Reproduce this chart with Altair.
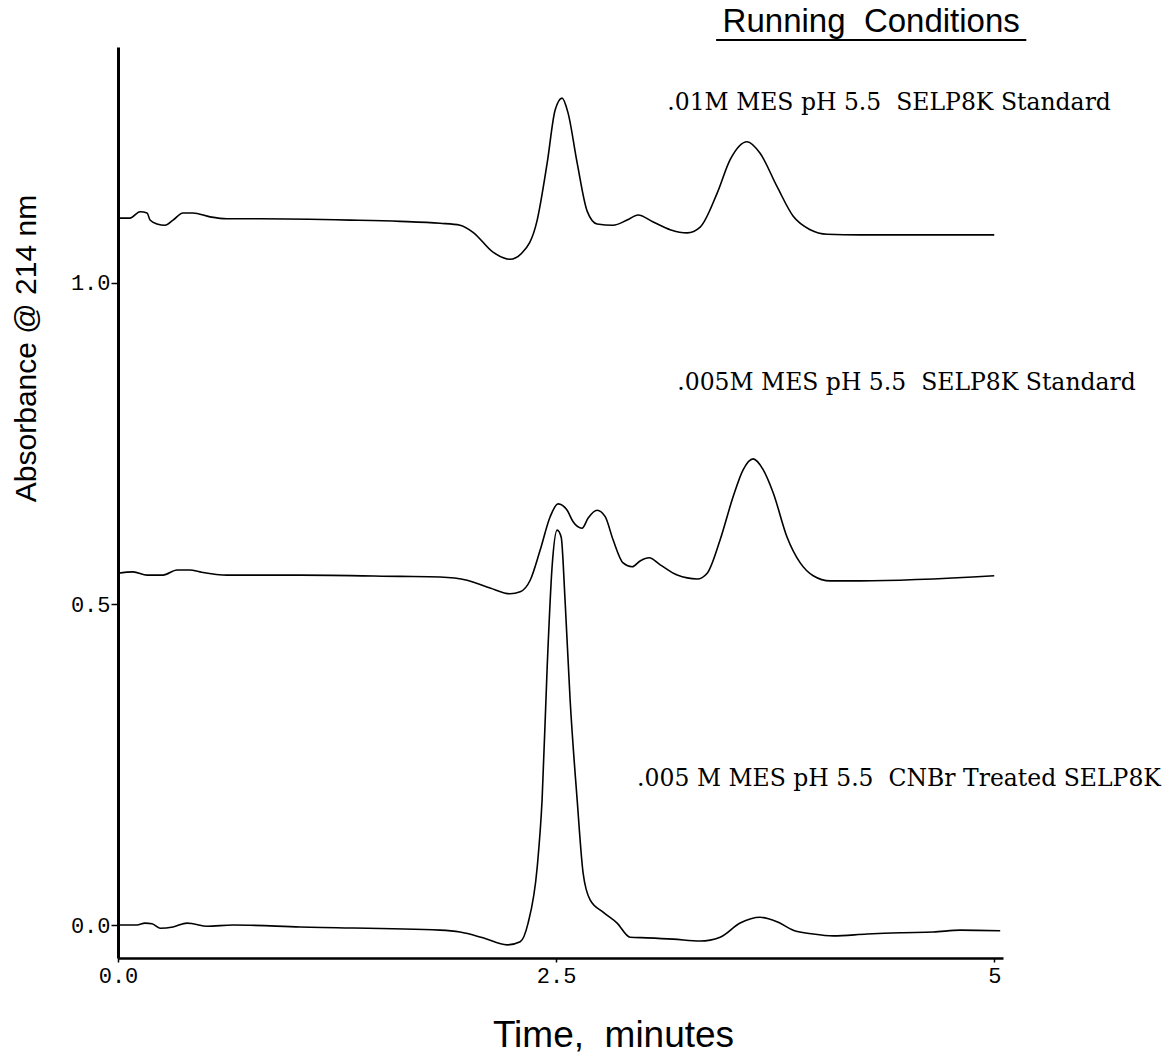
import altair as alt
import pandas as pd

# Chromatogram traces: retention time (min) and absorbance at 214 nm
time_01m = [0.000, 0.068, 0.126, 0.166, 0.183, 0.223, 0.268, 0.314, 0.371, 0.428,
            0.525, 0.622, 0.811, 1.324, 1.610, 1.838, 1.952, 2.026, 2.140, 2.237,
            2.306, 2.392, 2.449, 2.494, 2.534, 2.568, 2.620, 2.677, 2.734, 2.825,
            2.905, 2.968, 3.054, 3.151, 3.248, 3.322, 3.419, 3.493, 3.590, 3.664,
            3.761, 3.853, 3.950, 4.047, 4.235, 5.000]
abs_01m = [1.101, 1.101, 1.111, 1.109, 1.098, 1.092, 1.090, 1.098, 1.109, 1.109,
           1.103, 1.100, 1.100, 1.098, 1.096, 1.093, 1.090, 1.079, 1.048, 1.037,
           1.047, 1.098, 1.187, 1.269, 1.288, 1.265, 1.187, 1.112, 1.092, 1.090,
           1.098, 1.106, 1.095, 1.083, 1.078, 1.087, 1.140, 1.192, 1.220, 1.202,
           1.150, 1.104, 1.083, 1.076, 1.075, 1.075]

time_005m = [0.000, 0.086, 0.166, 0.257, 0.337, 0.411, 0.468, 0.622, 1.039, 1.610,
             1.838, 1.992, 2.123, 2.237, 2.295, 2.352, 2.409, 2.466, 2.511, 2.563,
             2.597, 2.648, 2.683, 2.734, 2.780, 2.825, 2.882, 2.934, 2.979, 3.031,
             3.094, 3.191, 3.305, 3.362, 3.436, 3.510, 3.567, 3.624, 3.682, 3.739,
             3.818, 3.893, 3.967, 4.064, 4.235, 5.000]
abs_005m = [0.548, 0.550, 0.545, 0.545, 0.553, 0.553, 0.550, 0.545, 0.545, 0.543,
            0.542, 0.537, 0.525, 0.516, 0.519, 0.537, 0.584, 0.636, 0.656, 0.646,
            0.628, 0.618, 0.634, 0.646, 0.636, 0.600, 0.564, 0.558, 0.567, 0.572,
            0.561, 0.545, 0.539, 0.548, 0.600, 0.667, 0.709, 0.726, 0.709, 0.673,
            0.604, 0.564, 0.544, 0.536, 0.536, 0.544]

time_cnbr = [0.000, 0.108, 0.154, 0.194, 0.240, 0.314, 0.394, 0.428, 0.508, 0.656,
             1.039, 1.838, 1.952, 2.083, 2.220, 2.295, 2.340, 2.392, 2.420, 2.449,
             2.477, 2.506, 2.529, 2.551, 2.580, 2.620, 2.654, 2.694, 2.768, 2.848,
             2.922, 3.019, 3.168, 3.322, 3.436, 3.550, 3.664, 3.761, 3.853, 3.967,
             4.081, 4.275, 4.463, 4.652, 4.806, 5.034]
abs_cnbr = [0.000, 0.000, 0.003, 0.002, -0.005, -0.003, 0.003, 0.002, -0.002, 0.000,
            -0.003, -0.008, -0.011, -0.020, -0.031, -0.026, 0.003, 0.090, 0.195, 0.402,
            0.558, 0.615, 0.604, 0.506, 0.350, 0.195, 0.081, 0.039, 0.020, 0.003,
            -0.019, -0.020, -0.022, -0.025, -0.019, 0.003, 0.012, 0.005, -0.008, -0.014,
            -0.017, -0.014, -0.012, -0.011, -0.008, -0.009]

NBSP = "\u00a0"  # keeps the doubled word gaps from collapsing in SVG text

run_labels = [".01M MES pH 5.5" + NBSP + " SELP8K Standard",
              ".005M MES pH 5.5" + NBSP + " SELP8K Standard",
              ".005 M MES pH 5.5" + NBSP + " CNBr Treated SELP8K"]
# label anchor (left edge, baseline) in data units
label_time = [3.134, 3.191, 2.962]
label_abs = [1.2695, 0.833, 0.2165]

x_ticks = [0, 2.5, 5]
y_ticks = [0.0, 0.5, 1.0]

frames = []
for name, t, a in [("a", time_01m, abs_01m), ("b", time_005m, abs_005m), ("c", time_cnbr, abs_cnbr)]:
    frames.append(pd.DataFrame({"time": t, "absorbance": a, "run": name}))
traces = pd.concat(frames, ignore_index=True)

labels = pd.DataFrame({"time": label_time, "absorbance": label_abs, "text": run_labels})
heading = pd.DataFrame({"time": [4.298], "absorbance": [1.391],
                        "text": ["Running" + NBSP + " Conditions"]})
underline = pd.DataFrame({"t0": [3.413], "t1": [5.183], "absorbance": [1.3785]})

x_scale = alt.Scale(domain=[0, 5.05], nice=False, zero=False)
y_scale = alt.Scale(domain=[-0.0514, 1.3676], nice=False, zero=False)

x_axis = alt.Axis(
    values=x_ticks,
    labelExpr="datum.value == 5 ? '5' : format(datum.value, '.1f')",
    title="Time," + NBSP + " minutes",
    titleFont="Liberation Sans", titleFontSize=37, titleFontWeight="normal",
    titleX=495, titleY=77, titleAlign="center", titleBaseline="middle",
    labelFont="Liberation Mono", labelFontSize=22, labelPadding=3, labelFlush=False,
    tickSize=4, domainWidth=2.5, grid=False,
)
y_axis = alt.Axis(
    values=y_ticks, format=".1f",
    title="Absorbance @ 214 nm",
    titleFont="Liberation Sans", titleFontSize=30, titleFontWeight="normal",
    titleAngle=270, titleX=-92, titleY=301, titleAlign="center", titleBaseline="middle",
    labelFont="Liberation Mono", labelFontSize=22, labelPadding=1, labelFlush=False,
    tickSize=7, domainWidth=3, grid=False,
)

lines = alt.Chart(traces).mark_line(
    interpolate="monotone", color="black", strokeWidth=1.6
).encode(
    x=alt.X("time:Q", scale=x_scale, axis=x_axis),
    y=alt.Y("absorbance:Q", scale=y_scale, axis=y_axis),
    detail="run:N",
)

run_text = alt.Chart(labels).mark_text(
    align="left", baseline="alphabetic", font="DejaVu Serif", fontSize=23.5, color="black"
).encode(x=alt.X("time:Q", scale=x_scale), y=alt.Y("absorbance:Q", scale=y_scale), text="text:N")

head_text = alt.Chart(heading).mark_text(
    align="center", baseline="alphabetic", font="Liberation Sans", fontSize=33, color="black"
).encode(x=alt.X("time:Q", scale=x_scale), y=alt.Y("absorbance:Q", scale=y_scale), text="text:N")

head_rule = alt.Chart(underline).mark_rule(color="black", strokeWidth=2).encode(
    x=alt.X("t0:Q", scale=x_scale), x2="t1:Q", y=alt.Y("absorbance:Q", scale=y_scale)
)

chart = alt.layer(lines, run_text, head_text, head_rule).properties(
    width=885, height=911,
    autosize=alt.AutoSizeParams(type="none"),
    padding={"left": 118, "top": 47, "right": 167, "bottom": 106},
    background="white",
).configure_view(stroke=None).configure_axis(
    domainColor="black", tickColor="black", labelColor="black", titleColor="black",
    tickWidth=1.5,
)

chart.save("out.html", embed_options={"renderer": "svg", "actions": False})
